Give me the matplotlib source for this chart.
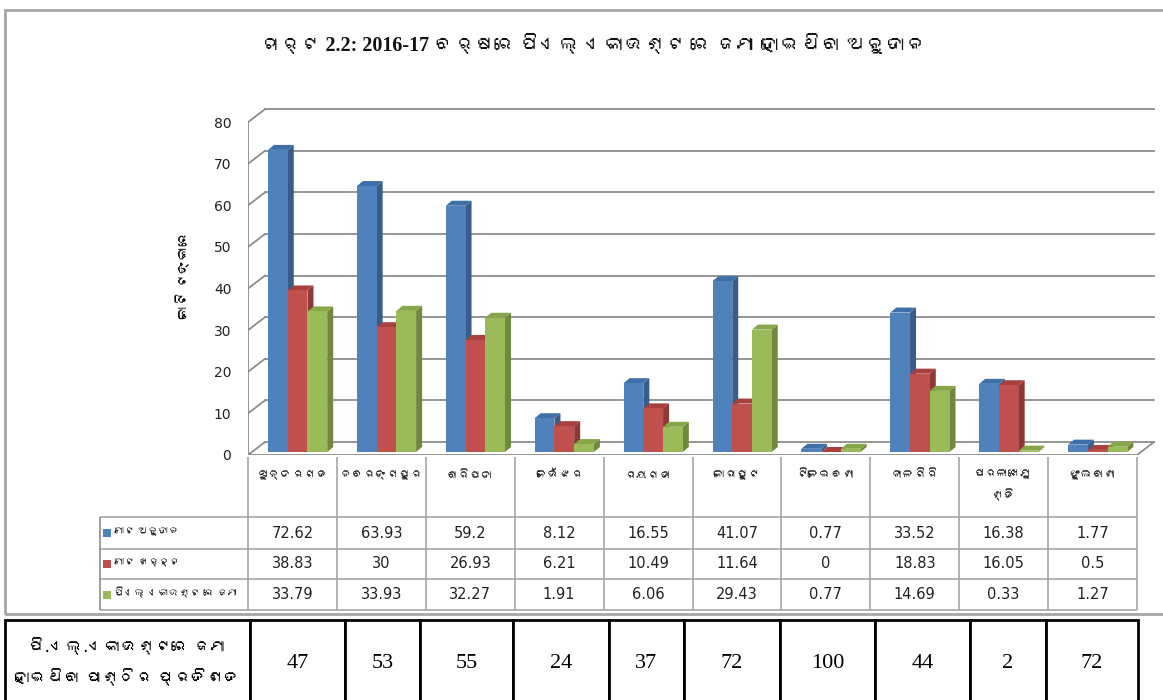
import numpy as np
import matplotlib
matplotlib.use("Agg")
import matplotlib.pyplot as plt
from matplotlib import font_manager, ft2font
from matplotlib.patches import Polygon, Rectangle

# ---------------------------------------------------------------
# data
# ---------------------------------------------------------------
title = "ଚାର୍ଟ 2.2: 2016-17 ବର୍ଷରେ ପିଏଲ୍ ଏକାଉଣ୍ଟ ରେ ଜମା ହୋଇଥିବା ଅନୁଦାନ"
ylabel = "କୋଟି ଟଙ୍କାରେ"
districts = ["ସୁନ୍ଦରଗଡ", "ନବରଙ୍ଗପୁର", "ବାରିପଦା", "କେଉଁଝର", "ରାୟଗଡା",
             "କୋରାପୁଟ", "ଟିଳେଇବଣୀ", "ନୀଳଗିରି", "ପାରଳାଖେମୁ\nଣ୍ଡି", "ଫୁଲବାଣୀ"]
series_names = ["ମୋଟ ଅନୁଦାନ", "ମୋଟ ଖର୍ଚ୍ଚ", "ପିଏଲ୍ ଏକାଉଣ୍ଟ ରେ ଜମା"]
total_grant = [72.62, 63.93, 59.2, 8.12, 16.55, 41.07, 0.77, 33.52, 16.38, 1.77]
total_spent = [38.83, 30, 26.93, 6.21, 10.49, 11.64, 0, 18.83, 16.05, 0.5]
pl_deposit = [33.79, 33.93, 32.27, 1.91, 6.06, 29.43, 0.77, 14.69, 0.33, 1.27]
pct_label = "ପି.ଏଲ୍.ଏକାଉଣ୍ଟରେ ଜମା\nହୋଇଥିବା ପାଣ୍ଠିର ପ୍ରତିଶତ"
pct_values = [47, 53, 55, 24, 37, 72, 100, 44, 2, 72]
yticks = np.arange(0, 81, 10)

front_cols = ["#4F81BD", "#C0504D", "#9BBB59"]
side_cols = ["#385D8A", "#8C3836", "#71893F"]
top_cols = ["#3F6FA8", "#A8403D", "#86A648"]


# ---------------------------------------------------------------
# font: look for something that can draw Odia
# ---------------------------------------------------------------
def has_odia(path):
    try:
        return ord("ଜ") in ft2font.FT2Font(path).get_charmap()
    except Exception:
        return False


odia = []
for f in font_manager.fontManager.ttflist:
    if f.name not in odia and has_odia(f.fname):
        odia.append(f.name)
sans = ["DejaVu Sans"] + odia[:1] + ["Noto Sans"]
serif = ["Liberation Serif"] + odia[:1] + ["DejaVu Sans"]
plt.rcParams["font.family"] = sans

fig = plt.figure(figsize=(11.63, 7.0), dpi=100)
W, H = 1163, 700


def fax(l, t, r, b):
    # axes from pixel box (left, top, right, bottom)
    return fig.add_axes([l / W, (H - b) / H, (r - l) / W, (b - t) / H])


# chart frame
fig.patches.append(Rectangle((5 / W, (H - 614) / H), 1.2, 604 / H, transform=fig.transFigure,
                             fill=False, edgecolor="#A6A6A6", lw=2))

fig.text(594 / W, 1 - 45 / H, title, ha="center", va="center", fontsize=14.5,
         fontweight="bold", family=serif, color="#111111")

# ---------------------------------------------------------------
# 3D-looking chart
# ---------------------------------------------------------------
PX, PY = 88.9, 4.16          # pixels per unit
L, R, T, B = 248, 1162, 95, 455
ax = fax(L, T, R, B)
ax.set_xlim(-0.5, -0.5 + (R - L) / PX)
ax.set_ylim(0, (B - T) / PY)
for s in ax.spines.values():
    s.set_visible(False)
ax.set_xticks([])
ax.set_yticks(yticks)
ax.set_yticklabels([str(v) for v in yticks], fontsize=10, color="#222222")
ax.tick_params(axis="y", length=0, pad=12)
ax.set_ylabel(ylabel, fontsize=10, labelpad=16)

WDX, WDY = 17 / PX, 13 / PY   # wall depth
SDX, SDY = 6 / PX, 5 / PY     # bar depth
BASE = 3 / PY
grid_c = "#8C8C8C"
x_left, x_right = -0.5, 9.5
for v in yticks:
    ax.plot([x_left + WDX, x_right + WDX], [v + WDY, v + WDY], color=grid_c, lw=1.3, zorder=1)
    ax.plot([x_left, x_left + WDX], [v, v + WDY], color=grid_c, lw=1.3, zorder=1)
ax.plot([x_left, x_left], [0, yticks[-1]], color=grid_c, lw=1.3, zorder=1)
ax.plot([x_left, x_right, x_right + WDX], [0, 0, WDY], color=grid_c, lw=1.3, zorder=1)

bw = 0.222
series = [total_grant, total_spent, pl_deposit]
for i in range(len(districts)):
    for k, vals in enumerate(series):
        v = vals[i]
        x0 = i - 0.275 + k * bw
        x1 = x0 + bw
        z = 3 + 3 * k
        side = [(x1, BASE), (x1 + SDX, BASE + SDY), (x1 + SDX, BASE + v + SDY), (x1, BASE + v)]
        top = [(x0, BASE + v), (x0 + SDX, BASE + v + SDY), (x1 + SDX, BASE + v + SDY), (x1, BASE + v)]
        ax.add_patch(Polygon(side, closed=True, facecolor=side_cols[k], edgecolor="none", zorder=z))
        ax.add_patch(Polygon(top, closed=True, facecolor=top_cols[k], edgecolor="none", zorder=z))
        ax.bar(x0, v, bw, bottom=BASE, align="edge", color=front_cols[k], edgecolor="none", zorder=z + 1)

# ---------------------------------------------------------------
# data table under the chart
# ---------------------------------------------------------------
tL, tR, tT, tB = 95, 1162, 455, 615
tax = fax(tL, tT, tR, tB)
tax.set_xlim(-0.5 - (L - tL) / PX, -0.5 + (tR - L) / PX)
tax.set_ylim(tB - tT, 0)
tax.axis("off")
tc = "#A6A6A6"
n = len(districts)
rows = [2, 62, 94, 124, 155]
xs = np.arange(-0.5, n, 1.0)
tax.vlines(xs, rows[0], rows[-1], color=tc, lw=1.2)
tax.hlines(rows[1:], -0.5 - 148 / PX, n - 0.5, color=tc, lw=1.2)
tax.vlines(-0.5 - 148 / PX, rows[1], rows[-1], color="#8C8C8C", lw=1.2)
for i, name in enumerate(districts):
    tax.text(i, 20 if "\n" not in name else 30, name, ha="center", va="center",
             fontsize=8.5, linespacing=1.9, color="#222222")
for k, vals in enumerate(series):
    yc = (rows[k + 1] + rows[k + 2]) / 2
    tax.add_patch(Rectangle((-0.5 - 145 / PX, yc - 4), 8 / PX, 8, facecolor=front_cols[k],
                            edgecolor="none"))
    tax.text(-0.5 - 134 / PX, yc - 2, series_names[k], ha="left", va="center",
             fontsize=7.5, color="#222222")
    for i, v in enumerate(vals):
        tax.text(i, yc, f"{v:g}", ha="center", va="center", fontsize=10.5, color="#222222")

# ---------------------------------------------------------------
# percentage table at the bottom
# ---------------------------------------------------------------
edges = np.array([5, 250, 345, 420, 513, 609, 684, 780, 875, 970, 1046, 1138])
bax = fax(edges[0], 620, edges[-1], 706)
bax.axis("off")
widths = np.diff(edges) / (edges[-1] - edges[0])
tbl = bax.table(cellText=[[pct_label] + [str(p) for p in pct_values]],
                colWidths=list(widths), bbox=[0, 0, 1, 1], cellLoc="center")
tbl.auto_set_font_size(False)
for (r, c), cell in tbl.get_celld().items():
    cell.set_edgecolor("black")
    cell.set_linewidth(2)
    txt = cell.get_text()
    if c == 0:
        txt.set_fontsize(12)
        txt.set_linespacing(1.9)
    else:
        txt.set_fontsize(16)
        txt.set_family(serif)

fig.savefig("out.png", dpi=100)
